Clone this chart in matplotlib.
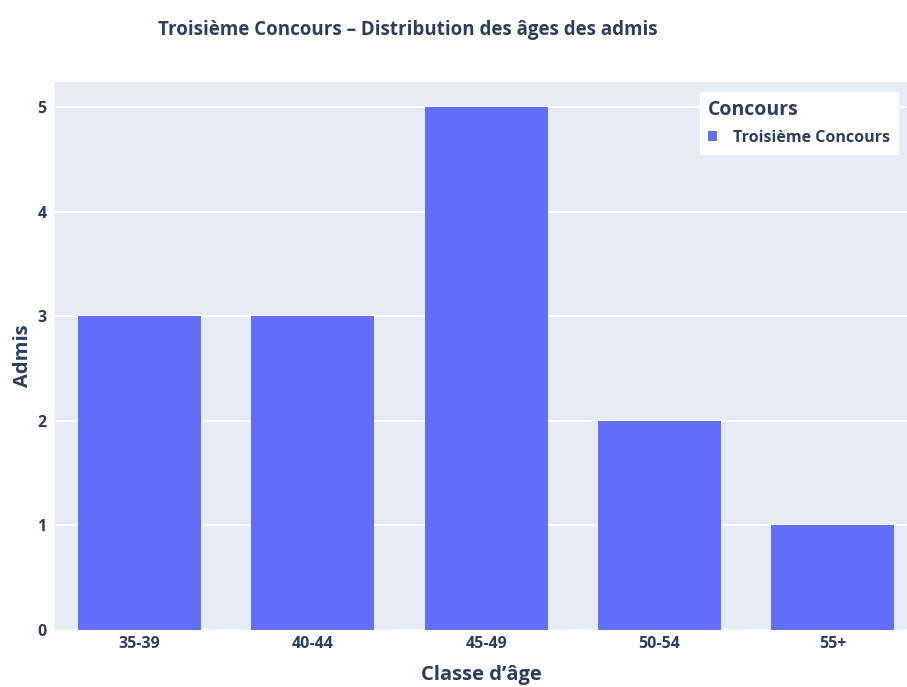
import matplotlib
matplotlib.use("Agg")
import matplotlib.pyplot as plt
from matplotlib.patches import Patch

# data
age_classes = ["35-39", "40-44", "45-49", "50-54", "55+"]
admis = [3, 3, 5, 2, 1]
series_name = "Troisième Concours"

title = "Troisième Concours – Distribution des âges des admis"
bar_color = "#636EFA"
bg_color = "#E5ECF6"
text_color = "#2A3F5F"

plt.rcParams["font.family"] = ["Open Sans", "DejaVu Sans"]
plt.rcParams["font.weight"] = "bold"

fig = plt.figure(figsize=(9.07, 6.87), dpi=100)
ax = fig.add_axes([55 / 907, 1 - 630 / 687, 1 - 55 / 907, (630 - 82) / 687])
ax.set_facecolor(bg_color)

x = list(range(len(age_classes)))
ax.bar(x, admis, width=0.71, color=bar_color, zorder=3, label=series_name)

ax.set_xlim(-0.489, 4.43)
ax.set_ylim(0, 5.24)
ax.set_yticks(range(0, 6))
ax.set_xticks(x)
ax.set_xticklabels(age_classes)
ax.grid(axis="y", color="white", linewidth=1.2, zorder=0)
ax.set_axisbelow(True)
for s in ax.spines.values():
    s.set_visible(False)
ax.tick_params(length=0, labelsize=11.5, labelcolor=text_color)
ax.tick_params(axis="y", pad=6)
ax.tick_params(axis="x", pad=4)

ax.set_xlabel("Classe d’âge", fontsize=14.5, color=text_color, fontweight="bold", labelpad=10)
ax.set_ylabel("Admis", fontsize=14.5, color=text_color, fontweight="bold", labelpad=3)

fig.text((163 + 652) / 2 / 907, 1 - 30 / 687, title, ha="center", va="center",
         fontsize=13.5, fontweight="bold", color=text_color)

handles = [Patch(facecolor=bar_color, label=series_name)]
leg = ax.legend(handles=handles, title="Concours", loc="upper right",
                bbox_to_anchor=((898 - 55) / (907 - 55), 1 - (92 - 82) / 548),
                frameon=True, fancybox=False, fontsize=11.5, title_fontsize=14,
                handlelength=0.55, handleheight=0.55, handletextpad=1.0,
                borderaxespad=0, borderpad=0.5, labelspacing=0.2)
leg._legend_box.align = "left"
leg._legend_box.sep = 7
leg.get_frame().set_facecolor("white")
leg.get_frame().set_edgecolor("white")
leg.get_frame().set_alpha(1)
leg.get_title().set_color(text_color)
leg.get_title().set_fontweight("bold")
for t in leg.get_texts():
    t.set_color(text_color)

fig.savefig("out.png", dpi=100)
